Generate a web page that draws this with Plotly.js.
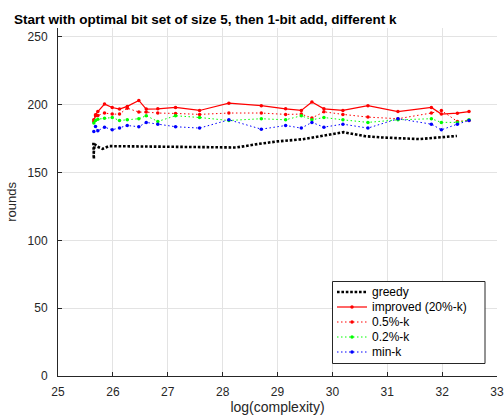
<!DOCTYPE html>
<html>
<head>
<meta charset="utf-8">
<script src="https://cdn.plot.ly/plotly-3.0.1.min.js"></script>
<style>html,body{margin:0;padding:0;background:#fff;}#chart{width:504px;height:418px;}</style>
</head>
<body>
<div id="chart"></div>
<script>
// ---- data ----
var greedyX = [25.645, 25.65, 25.655, 25.648, 25.66, 25.67, 25.72, 25.81, 25.93, 27.0, 28.25, 28.67, 29.0, 29.46, 30.2, 30.6, 30.9, 31.58, 32.27];
var greedyY = [172, 165, 160, 163, 168, 171, 169, 167.5, 169.5, 169, 168.5, 171.2, 173, 174.6, 179.8, 176.8, 175.9, 174.7, 177];

var kX = [25.653, 25.684, 25.726, 25.848, 25.988, 26.121, 26.262, 26.473, 26.608, 26.819, 27.142, 27.58, 28.114, 28.705, 29.148, 29.434, 29.627, 29.846, 30.192, 30.648, 31.195, 31.804, 31.986, 32.278, 32.49];
var improvedY = [187.6, 192.6, 195, 200.5, 198, 196.8, 198.8, 203.2, 196.8, 197, 198, 195.8, 201.2, 199.3, 197, 195.8, 202, 197, 195.8, 199.3, 195, 198, 193.1, 193.8, 195];
var k05Y = [189, 191.9, 192.1, 193.9, 193.1, 193.1, 197.5, 194.6, 194.6, 193.9, 193.6, 192.9, 193.9, 193.9, 192.9, 193.1, 190.2, 194.8, 192.9, 190.9, 189.7, 193.9, 195.8, 187.7, 188.4];
var k02Y = [186.5, 188.4, 189.4, 190, 190.6, 188.4, 188.9, 189.7, 191.9, 187.7, 191.9, 190.6, 188.4, 189.7, 188.9, 191.9, 188.9, 190.6, 188.9, 187, 188.9, 189.7, 187, 187, 188.9];
var minkY = [180.3, 184, 180.8, 183.5, 181.5, 182.8, 184.7, 183.8, 187, 185.7, 183.8, 182.8, 188.9, 182, 184.7, 182.8, 187, 183.5, 185.7, 182.8, 189.7, 185.7, 181.5, 185.7, 188.4];

var seriesNames = ['greedy', 'improved (20%-k)', '0.5%-k', '0.2%-k', 'min-k'];
var xTicks = [25, 26, 27, 28, 29, 30, 31, 32, 33];
var yTicks = [0, 50, 100, 150, 200, 250];

var FONT = 'Liberation Sans, Arial, Helvetica, sans-serif';
var AX = '#262626';

var styles = [
  {color: '#000000', width: 2.6, dash: '2.6px,1.8px', marker: false},
  {color: '#ff0000', width: 1.2, dash: 'solid', marker: true},
  {color: '#ff0000', width: 1, dash: '1.5px,2.5px', marker: true},
  {color: '#00ff00', width: 1, dash: '1.5px,2.5px', marker: true},
  {color: '#0000ff', width: 1, dash: '1.5px,2.5px', marker: true}
];
var xs = [greedyX, kX, kX, kX, kX];
var ys = [greedyY, improvedY, k05Y, k02Y, minkY];

var traces = seriesNames.map(function (n, i) {
  var s = styles[i];
  var t = {x: xs[i], y: ys[i], name: n, showlegend: false,
           mode: s.marker ? 'lines+markers' : 'lines',
           line: {color: s.color, width: s.width, dash: s.dash}};
  if (s.marker) t.marker = {color: s.color, size: 3.5};
  return t;
});

// ---- legend drawn as layout decoration (MATLAB-style compact box) ----
var PL = 58, PW = 439, PB = 376, PH = 348;
function px2x(p) { return (p - PL) / PW; }
function py2y(p) { return (PB - p) / PH; }
var shapes = [{type: 'rect', xref: 'paper', yref: 'paper',
  x0: px2x(332.5), x1: px2x(485), y0: py2y(363.5), y1: py2y(281.5),
  line: {color: AX, width: 1}, fillcolor: '#ffffff', layer: 'above'}];
var annotations = [];
var rowY = [292, 307, 322, 337, 352];
seriesNames.forEach(function (n, i) {
  var s = styles[i];
  var yy = py2y(rowY[i]);
  shapes.push({type: 'line', xref: 'paper', yref: 'paper', layer: 'above',
    x0: px2x(337), x1: px2x(367), y0: yy, y1: yy,
    line: {color: s.color, width: s.width, dash: s.dash}});
  if (s.marker) {
    shapes.push({type: 'circle', xref: 'paper', yref: 'paper', layer: 'above',
      xsizemode: 'pixel', ysizemode: 'pixel', xanchor: px2x(352), yanchor: yy,
      x0: -1.75, x1: 1.75, y0: -1.75, y1: 1.75,
      fillcolor: s.color, line: {width: 0}});
  }
  annotations.push({xref: 'paper', yref: 'paper', x: px2x(369.5), y: yy,
    xanchor: 'left', yanchor: 'middle', showarrow: false, text: n,
    font: {family: FONT, size: 12, color: '#000000'}});
});

var layout = {
  width: 504, height: 418,
  margin: {l: 58, r: 7, t: 28, b: 42, pad: 0},
  paper_bgcolor: '#ffffff', plot_bgcolor: '#ffffff',
  font: {family: FONT, size: 12, color: AX},
  title: {text: '<b>Start with optimal bit set of size 5, then 1-bit add, different k</b>',
          font: {family: FONT, size: 13.5, color: '#000000'},
          x: 14 / 504, xanchor: 'left', xref: 'container',
          y: 1 - 19 / 418, yanchor: 'middle', yref: 'container'},
  xaxis: {range: [25, 33], tickvals: xTicks, ticktext: xTicks.map(String),
          showgrid: true, gridcolor: '#e3e3e3', gridwidth: 1, zeroline: false,
          showline: true, linecolor: AX, linewidth: 1, mirror: false,
          ticks: 'inside', ticklen: 4, tickcolor: AX, tickwidth: 1,
          tickfont: {family: FONT, size: 12, color: AX}, ticklabelstandoff: 5,
          title: {text: 'log(complexity)', font: {family: FONT, size: 14, color: AX}, standoff: 3}},
  yaxis: {range: [0, 256.6], tickvals: yTicks, ticktext: yTicks.map(String),
          showgrid: true, gridcolor: '#e3e3e3', gridwidth: 1, zeroline: false,
          showline: true, linecolor: AX, linewidth: 1, mirror: false,
          ticks: 'inside', ticklen: 4, tickcolor: AX, tickwidth: 1,
          tickfont: {family: FONT, size: 12, color: AX}, ticklabelstandoff: 7,
          title: {text: 'rounds', font: {family: FONT, size: 13, color: AX}, standoff: 8}},
  showlegend: false,
  shapes: shapes,
  annotations: annotations
};

Plotly.newPlot('chart', traces, layout, {displayModeBar: false, staticPlot: true});
</script>
</body>
</html>
